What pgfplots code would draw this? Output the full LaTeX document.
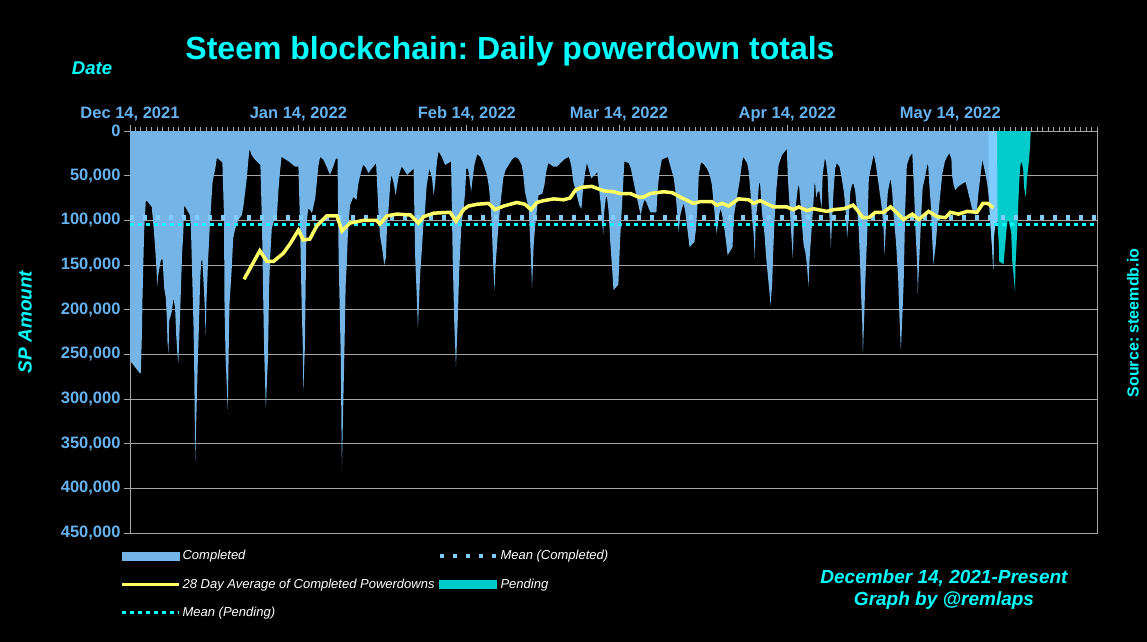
\documentclass[border=0pt]{standalone}
\usepackage{fontspec}
\setmainfont{Liberation Sans}
\usepackage{pgfplots}
\pgfplotsset{compat=1.18}
\frenchspacing

\definecolor{compl}{HTML}{74B4E6}
\definecolor{band}{HTML}{80CCFF}
\definecolor{pend}{HTML}{00CCCC}
\definecolor{avg}{HTML}{FFFF66}
\definecolor{meanc}{HTML}{80CCFF}
\definecolor{meanp}{HTML}{00FFFF}
\definecolor{ticklab}{HTML}{66B2F0}
\definecolor{gridc}{HTML}{A6A6A6}
\definecolor{titlec}{HTML}{00FFFF}

\begin{document}
\begin{tikzpicture}
\fill[black] (0bp,0bp) rectangle (1147bp,642bp);
\path[use as bounding box] (0bp,0bp) rectangle (1147bp,642bp);

\begin{axis}[
    at={(130bp,109bp)}, anchor=south west,
    width=967bp, height=402bp, scale only axis,
    xmin=0, xmax=178, ymin=0, ymax=450000,
    y dir=reverse,
    axis line style={gridc, line width=1bp},
    xtick={0,31,62,90,121,151},
    xticklabels={{Dec 14, 2021},{Jan 14, 2022},{Feb 14, 2022},{Mar 14, 2022},{Apr 14, 2022},{May 14, 2022}},
    minor xtick={0,1,...,178},
    xtick pos=right, xticklabel pos=right,
    ytick pos=left, yticklabel pos=left,
    ytick={0,50000,100000,150000,200000,250000,300000,350000,400000,450000},
    yticklabels={0,{50,000},{100,000},{150,000},{200,000},{250,000},{300,000},{350,000},{400,000},{450,000}},
    scaled y ticks=false, scaled x ticks=false,
    tick align=outside,
    major tick length=6bp, minor tick length=4bp,
    every tick/.style={gridc, line width=0.8bp},
    ymajorgrids, grid style={gridc, line width=1bp},
    ticklabel style={font=\bfseries\fontsize{16.5bp}{19bp}\selectfont, text=ticklab},
    legend columns=2,
    legend cell align=left,
    legend style={at={(-0.013,-0.033)}, anchor=north west, draw=none, fill=none,
        text=white, font=\itshape\fontsize{13bp}{15bp}\selectfont,
        row sep=13.5bp, /tikz/every even column/.append style={column sep=1bp}},
]
% completed powerdowns
\addplot[fill=compl, draw=none, forget plot] coordinates {
(0,257000)(1.8,271000)(2.0,271000)(2.2,225000)(2.3,187000)(2.6,113000)(2.9,79000)(3.1,78000)(4.0,85000)(4.3,105000)(4.6,128000)(4.9,157000)(5.0,174000)(5.2,161000)(5.7,144000)(6.0,144000)(6.3,176000)(6.6,187000)(6.8,213000)(6.9,236000)(7.1,249000)(7.2,213000)(7.7,202000)(8.0,187000)(8.3,198000)(8.5,228000)(8.7,247000)(8.9,260000)(9.2,210000)(9.6,135000)(9.8,116000)(10.0,83000)(11.0,94000)(11.2,105000)(11.4,150000)(11.7,221000)(11.8,254000)(12.0,370000)(12.5,254000)(12.7,217000)(12.9,169000)(13.1,146000)(13.3,144000)(13.5,165000)(13.8,202000)(13.9,228000)(14.1,187000)(14.4,142000)(14.7,105000)(15.2,57000)(15.7,42000)(16.0,30000)(17.0,35000)(17.3,94000)(17.4,197000)(17.6,254000)(18.0,312000)(18.3,195000)(18.7,157000)(19.0,120000)(19.3,111000)(19.9,100000)(20.6,94000)(20.9,83000)(21.2,68000)(21.5,53000)(21.8,32000)(22.0,20000)(22.4,27000)(23.0,32000)(24.0,38000)(24.3,105000)(24.5,180000)(24.7,247000)(25.0,310000)(25.4,254000)(25.6,176000)(25.8,142000)(26.1,109000)(26.6,98000)(27.0,101000)(27.3,68000)(27.6,46000)(27.9,29000)(29.2,34000)(30.4,40000)
(31.0,40000)(31.3,105000)(31.6,195000)(31.8,240000)(31.9,292000)(32.2,240000)(32.4,142000)(32.5,105000)(32.8,87000)(33.1,88000)(33.5,92000)(34.1,75000)(34.4,57000)(34.7,38000)(35.0,29000)(35.6,32000)(36.2,40000)(36.8,49000)(37.4,40000)(37.9,31000)(38.2,31000)(38.4,142000)(38.5,169000)(38.8,254000)(39.0,379000)(39.5,236000)(39.7,172000)(39.9,150000)(40.1,116000)(40.5,83000)(41.1,74000)(41.7,77000)(42.0,60000)(42.4,49000)(42.9,38000)(43.3,40000)(43.9,47000)(44.5,42000)(45.3,36000)(45.7,87000)(46.0,116000)(46.5,135000)(46.8,150000)(47.1,142000)(47.3,109000)(47.6,87000)(47.9,60000)(48.1,49000)(48.5,57000)(48.9,72000)(49.2,60000)(49.5,49000)(50.0,40000)(50.3,42000)(51.0,49000)(51.9,44000)(52.2,42000)(52.5,142000)(52.8,187000)(53.0,221000)(53.4,161000)(53.7,135000)(54.0,105000)(54.3,90000)(54.6,62000)(55.1,42000)(55.6,53000)(55.9,72000)(56.2,57000)(56.5,34000)(56.8,23000)(57.4,29000)(58.0,38000)(59.1,34000)(59.4,142000)(59.7,217000)(60.0,264000)(60.3,217000)(60.6,157000)
(61.0,105000)(61.4,87000)(61.7,68000)(61.9,42000)(62.2,42000)(62.4,49000)(62.8,68000)(63.0,57000)(63.4,38000)(63.9,26000)(64.5,29000)(65.0,36000)(65.7,49000)(66.1,64000)(66.3,79000)(66.6,105000)(66.8,142000)(67.1,178000)(67.3,150000)(67.7,116000)(68.1,87000)(68.7,53000)(69.1,44000)(70.3,32000)(70.9,29000)(71.5,31000)(72.1,38000)(72.4,49000)(72.7,68000)(73.4,87000)(73.8,142000)(74.0,176000)(74.3,128000)(74.6,105000)(75.2,72000)(75.9,70000)(76.3,60000)(76.6,46000)(77.0,36000)(78.0,40000)(78.6,40000)(79.2,36000)(80.1,31000)(80.8,29000)(81.2,38000)(81.6,57000)(82.1,68000)(82.7,83000)(83.1,87000)(83.4,64000)(83.8,46000)(84.1,36000)(84.4,42000)(84.9,53000)(85.6,49000)(86.0,46000)(86.2,57000)(86.6,79000)(87.1,116000)(87.3,90000)(87.6,74000)(87.8,74000)(88.1,90000)(88.4,124000)(88.7,150000)(89.0,178000)(89.9,172000)
(90.2,124000)(90.5,90000)(90.7,68000)(91.0,34000)(91.8,36000)(92.2,42000)(92.8,60000)(93.2,72000)(93.6,83000)(94.0,94000)(94.4,83000)(94.7,77000)(95.0,79000)(95.5,87000)(95.8,91000)(96.9,91000)(97.1,68000)(97.4,49000)(97.9,32000)(99.0,29000)(99.4,38000)(100.1,53000)(100.4,68000)(100.7,90000)(101.0,113000)(101.3,94000)(101.6,87000)(101.9,81000)(102.2,90000)(102.5,105000)(103.0,130000)(103.9,124000)(104.2,109000)(104.5,79000)(104.7,49000)(105.1,35000)(105.6,37000)(106.2,42000)(106.7,49000)(107.1,60000)(107.4,79000)(107.7,98000)(108.0,115000)(108.3,98000)(108.7,87000)(109.0,94000)(109.4,109000)(109.8,128000)(110.0,139000)(110.9,130000)(111.2,94000)(111.7,75000)(112.2,57000)(112.7,34000)(112.9,29000)(113.6,36000)(113.9,46000)(114.2,68000)(114.5,98000)(114.8,116000)(115.0,142000)(115.2,98000)(115.5,83000)(115.8,57000)(116.0,60000)(116.3,90000)(116.8,116000)(117.1,142000)(117.4,161000)(117.7,180000)(117.9,195000)(118.2,172000)(118.4,135000)(118.6,105000)(119.0,64000)(119.4,38000)(120.0,27000)
(120.9,20000)(121.1,53000)(121.4,83000)(121.7,113000)(122.0,142000)(122.2,105000)(122.5,87000)(123.0,60000)(123.2,64000)(123.4,79000)(123.7,105000)(124.0,128000)(124.3,135000)(124.6,150000)(124.9,174000)(125.1,142000)(125.4,116000)(125.7,90000)(126.0,60000)(126.1,57000)(126.3,75000)(126.6,68000)(126.9,68000)(127.3,87000)(127.5,49000)(127.9,31000)(128.1,34000)(128.4,49000)(128.6,79000)(128.9,113000)(129.0,131000)(129.2,105000)(129.5,68000)(129.8,42000)(130.1,36000)(130.6,40000)(130.9,49000)(131.4,68000)(131.7,87000)(132.0,120000)(132.3,98000)(132.6,68000)(132.9,60000)(133.2,59000)(133.5,68000)(133.8,87000)(134.1,105000)(134.4,150000)(134.6,187000)(134.8,217000)(134.9,251000)(135.1,217000)(135.4,161000)(135.7,116000)(136.0,53000)(136.5,38000)(136.9,26000)(137.3,38000)(137.8,60000)(138.4,87000)(138.7,109000)(138.9,139000)(139.2,98000)(139.5,68000)(140.0,53000)(140.3,68000)(140.6,98000)(141.0,124000)(141.4,165000)(141.6,202000)(141.8,232000)(141.9,246000)(142.1,217000)(142.4,172000)(142.7,87000)(143.0,38000)(143.5,29000)(144.0,25000)(144.3,64000)(144.6,113000)(144.9,150000)(145.0,182000)(145.3,142000)(145.7,87000)(145.9,64000)(146.3,53000)(146.7,40000)(146.9,36000)(147.1,57000)(147.4,83000)(147.6,113000)(147.9,149000)(148.3,128000)(148.6,105000)(148.9,87000)(149.2,68000)(149.5,49000)(150.0,34000)
(150.4,29000)(150.8,25000)(151.2,31000)(151.3,49000)(151.6,60000)(151.9,66000)(152.5,62000)(153.2,59000)(153.8,57000)(154.1,64000)(154.4,72000)(154.7,79000)(155.0,87000)(155.6,94000)(155.9,87000)(156.2,68000)(156.5,53000)(156.9,32000)(157.1,38000)(157.5,49000)(157.8,60000)(158.1,75000)(158.4,105000)(158.7,131000)(158.9,154000)(159.0,120000)(159.3,79000)(159.6,4000)(159.7,0)
} \closedcycle;
% lighter strip where completed and pending meet
\addplot[fill=band, draw=none, forget plot] coordinates {
(158.0,0)(158.1,75000)(158.4,105000)(158.7,131000)(158.9,154000)(159.0,120000)(159.3,105000)(159.9,100000)(159.9,0)
} \closedcycle;
% pending powerdowns
\addplot[fill=pend, draw=none, forget plot] coordinates {
(159.6,0)(159.7,105000)(159.9,124000)(160.0,146000)(160.5,148000)(160.8,149000)(161.0,135000)(161.3,113000)(161.6,98000)(161.9,105000)(162.2,113000)(162.4,146000)(162.7,165000)(162.9,180000)(163.0,150000)(163.3,113000)(163.5,83000)(163.7,55000)(163.9,38000)(164.1,34000)(164.4,42000)(164.6,64000)(164.9,74000)(165.1,53000)(165.4,38000)(165.6,23000)(165.7,14000)(165.8,0)
} \closedcycle;
% means
\addplot[meanc, line width=5bp, dash pattern=on 4bp off 9bp, forget plot] coordinates {(0,96600)(178,96600)};
\addplot[meanp, line width=3bp, dash pattern=on 4bp off 4bp, forget plot] coordinates {(0,104400)(178,104400)};
% 28 day average
\addplot[avg, line width=3.5bp, forget plot] coordinates {
(21.0,166000)(23.9,134000)(25.2,146000)(26.4,146000)(28.2,137000)(29.5,126000)(31.0,111000)(31.9,122000)(33.1,121000)(34.4,106000)(36.2,95000)(38.1,95000)(39.0,112000)(40.5,103000)(43.0,100000)(45.4,100000)(46.0,104000)(47.3,95000)(49.1,93000)(51.6,94000)(53.1,103000)(54.0,96000)(55.9,92000)(58.9,91000)(60.0,101000)(61.4,88000)(62.3,84000)(63.9,82000)(66.0,81000)(67.2,88000)(68.8,84000)(71.2,80000)(72.7,82000)(73.8,88000)(74.9,80000)(76.1,78000)(78.0,76000)(79.8,77000)(81.0,75000)(82.0,66000)(83.2,63000)(85.0,62000)(87.2,67000)(89.0,68000)(90.2,70000)(92.1,70000)(93.6,74000)(94.5,74000)(95.8,70000)(98.2,68000)(99.8,69000)(101.3,74000)(103.7,81000)(105.0,79000)(107.1,79000)(108.0,83000)(109.0,81000)(110.2,84000)(112.0,76000)(113.9,77000)(114.8,81000)(116.0,78000)(118.5,85000)(120.9,85000)(122.1,88000)(123.1,85000)(124.6,89000)(125.8,87000)(128.3,90000)(129.5,88000)(131.4,87000)(133.1,83000)(133.8,88000)(134.9,97000)(136.0,97000)(137.2,91000)(138.7,91000)(140.0,85000)(140.9,90000)(142.4,99000)(144.0,93000)(145.2,99000)(147.0,90000)(148.6,96000)(150.1,97000)(151.0,91000)(152.5,93000)(154.1,90000)(155.9,91000)(157.0,81000)(157.9,81000)(158.9,86000)
};

\addlegendimage{legend image code/.code={\fill[compl] (0bp,-4bp) rectangle (57bp,4bp);}}
\addlegendentry{Completed}
\addlegendimage{legend image code/.code={\draw[meanc, line width=4bp, dash pattern=on 4bp off 9bp] (0bp,0bp) -- (57bp,0bp);}}
\addlegendentry{Mean (Completed)}
\addlegendimage{legend image code/.code={\draw[avg, line width=3bp] (0bp,0bp) -- (57bp,0bp);}}
\addlegendentry{28 Day Average of Completed Powerdowns}
\addlegendimage{legend image code/.code={\fill[pend] (0bp,-4bp) rectangle (57bp,4bp);}}
\addlegendentry{Pending}
\addlegendimage{legend image code/.code={\draw[meanp, line width=3bp, dash pattern=on 4bp off 4bp] (0bp,0bp) -- (57bp,0bp);}}
\addlegendentry{Mean (Pending)}
\end{axis}

\node[anchor=base, text=titlec, font=\bfseries\fontsize{32bp}{36bp}\selectfont] at (510bp,582bp) {Steem blockchain: Daily powerdown totals};
\node[anchor=base, text=titlec, font=\bfseries\itshape\fontsize{18.5bp}{22bp}\selectfont] at (92bp,567bp) {Date};
\node[rotate=90, text=titlec, font=\bfseries\itshape\fontsize{19bp}{22bp}\selectfont] at (25bp,320bp) {SP Amount};
\node[rotate=90, text=titlec, font=\bfseries\fontsize{16bp}{19bp}\selectfont] at (1133bp,319bp) {Source: steemdb.io};
\node[anchor=base, text=titlec, font=\bfseries\itshape\fontsize{19bp}{22bp}\selectfont] at (944bp,58bp) {December 14, 2021-Present};
\node[anchor=base, text=titlec, font=\bfseries\itshape\fontsize{19bp}{22bp}\selectfont] at (944bp,37bp) {Graph by @remlaps};
\end{tikzpicture}
\end{document}
